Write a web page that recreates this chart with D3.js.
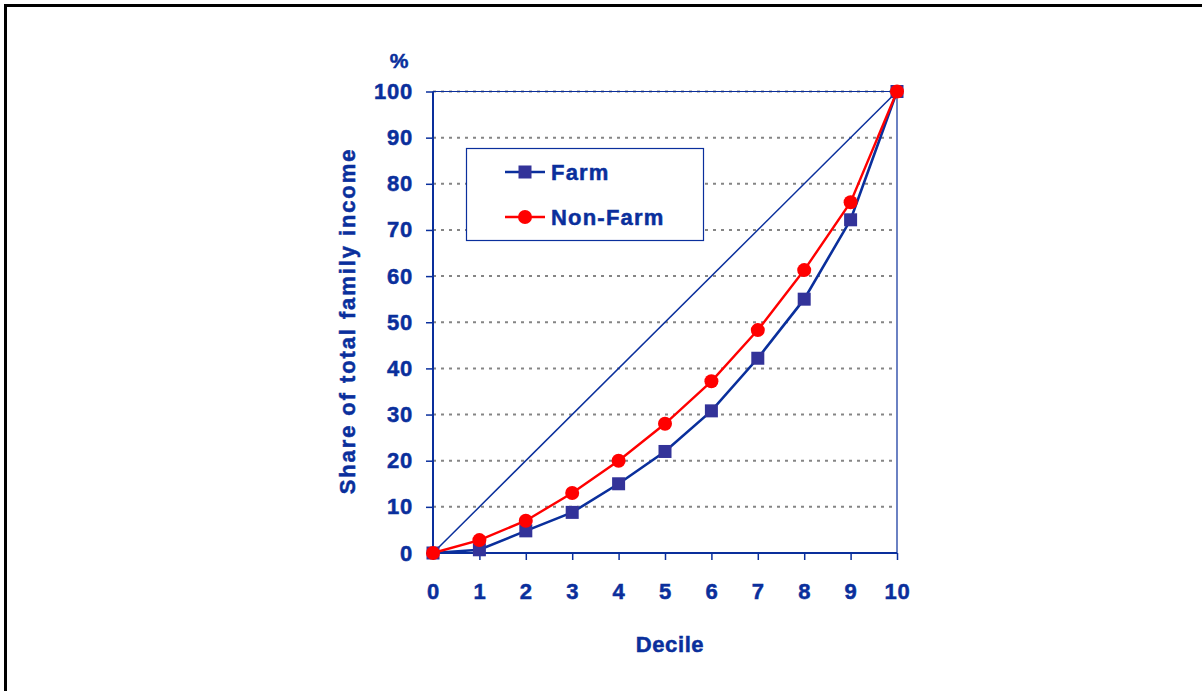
<!DOCTYPE html>
<html>
<head>
<meta charset="utf-8">
<script src="https://cdn.jsdelivr.net/npm/d3@7"></script>
<style>
html,body{margin:0;padding:0;background:#fff;}
svg{display:block;}
text{font-family:"Liberation Sans",Arial,sans-serif;font-weight:bold;fill:#0a2f9c;stroke:#0a2f9c;stroke-width:0.5px;}
</style>
</head>
<body>
<svg id="chart" width="1202" height="691"></svg>
<script>
const deciles = [0,1,2,3,4,5,6,7,8,9,10];
const farm = [0,0.7,4.8,8.8,15,22,30.8,42.2,55,72.2,100];
const nonFarm = [0,2.8,7,13,20,28,37.2,48.3,61.3,76,100];
const yTicks = [0,10,20,30,40,50,60,70,80,90,100];
const seriesNames = ["Farm","Non-Farm"];
const equality = [0,100];

const svg = d3.select("#chart");
const textColor = "#0a2f9c";
const axisColor = "#0a2f9c";

// frame
svg.append("path").attr("d","M5.5,691 V5.5 H1202").attr("fill","none").attr("stroke","#000").attr("stroke-width",3);

const x = d3.scaleLinear().domain([0,10]).range([433,897]);
const y = d3.scaleLinear().domain([0,100]).range([553,91.5]);

// gridlines
svg.append("g").selectAll("line").data(yTicks.filter(d=>d>0)).join("line")
  .attr("x1",x(0)).attr("x2",x(10)).attr("y1",d=>y(d)).attr("y2",d=>y(d))
  .attr("stroke","#858585").attr("stroke-width",2).attr("stroke-dasharray","3,5");

// plot border top/right
svg.append("path").attr("d",`M${x(0)},${y(100)} H${x(10)} V${y(0)}`).attr("fill","none").attr("stroke",axisColor).attr("stroke-width",1.2);

// axes
const yAxis = d3.axisLeft(y).tickValues(yTicks).tickSize(7).tickPadding(13);
const gy = svg.append("g").attr("transform",`translate(${x(0)},0)`).call(yAxis);
const xAxis = d3.axisBottom(x).tickValues(deciles).tickSize(7).tickPadding(22);
const gx = svg.append("g").attr("transform",`translate(0,${y(0)})`).call(xAxis);
[gy,gx].forEach(g=>{
  g.select(".domain").attr("stroke",axisColor).attr("stroke-width",2);
  g.selectAll(".tick line").attr("stroke",axisColor).attr("stroke-width",1.5);
  g.selectAll(".tick text").attr("fill",textColor).attr("stroke",textColor).attr("stroke-width",0.5)
    .style("font-size","22px").style("font-family","'Liberation Sans',Arial,sans-serif").style("font-weight","bold").style("letter-spacing","0.8px");
});
gy.select(".domain").attr("d",`M0,${y(0)}V${y(100)}`);
gx.select(".domain").attr("d",`M${x(0)},0H${x(10)}`);
gx.selectAll(".tick text").attr("dy","0.75em");

// equality diagonal
svg.append("line").attr("x1",x(0)).attr("y1",y(equality[0])).attr("x2",x(10)).attr("y2",y(equality[1]))
  .attr("stroke","#0a2f9c").attr("stroke-width",1.5);

const line = d3.line().x((d,i)=>x(deciles[i])).y(d=>y(d));

// farm
svg.append("path").datum(farm).attr("d",line).attr("fill","none").attr("stroke","#0a2f9c").attr("stroke-width",2.6);
svg.append("g").selectAll("rect").data(farm).join("rect")
  .attr("x",(d,i)=>x(deciles[i])-6.5).attr("y",d=>y(d)-6.5).attr("width",13).attr("height",13)
  .attr("fill","#333399");

// non-farm
svg.append("path").datum(nonFarm).attr("d",line).attr("fill","none").attr("stroke","#ff0000").attr("stroke-width",2.4);
svg.append("g").selectAll("circle").data(nonFarm).join("circle")
  .attr("cx",(d,i)=>x(deciles[i])).attr("cy",d=>y(d)).attr("r",7).attr("fill","#ff0000");

// legend
const lg = svg.append("g");
lg.append("rect").attr("x",466.5).attr("y",148.5).attr("width",237).attr("height",92).attr("fill","#fff").attr("stroke",axisColor).attr("stroke-width",1.2);
const rows = [{name:seriesNames[0],y:172,color:"#0a2f9c",mark:"rect"},{name:seriesNames[1],y:217,color:"#ff0000",mark:"circle"}];
rows.forEach(r=>{
  lg.append("line").attr("x1",505).attr("x2",545).attr("y1",r.y).attr("y2",r.y).attr("stroke",r.color).attr("stroke-width",2.6);
  if(r.mark==="rect") lg.append("rect").attr("x",525-6.5).attr("y",r.y-6.5).attr("width",13).attr("height",13).attr("fill","#333399");
  else lg.append("circle").attr("cx",525).attr("cy",r.y).attr("r",7).attr("fill","#ff0000");
  lg.append("text").attr("x",551).attr("y",r.y+8).style("font-size","22px").style("letter-spacing","1.2px").text(r.name);
});

// labels
svg.append("text").attr("x",399).attr("y",68).attr("text-anchor","middle").style("font-size","21px").text("%");
svg.append("text").attr("x",670).attr("y",652).attr("text-anchor","middle").style("font-size","22px").style("letter-spacing","0.6px").text("Decile");
svg.append("text").attr("transform","translate(355,321) rotate(-90)").attr("text-anchor","middle").style("font-size","22px").style("letter-spacing","1.9px").text("Share of total family income");
</script>
</body>
</html>
